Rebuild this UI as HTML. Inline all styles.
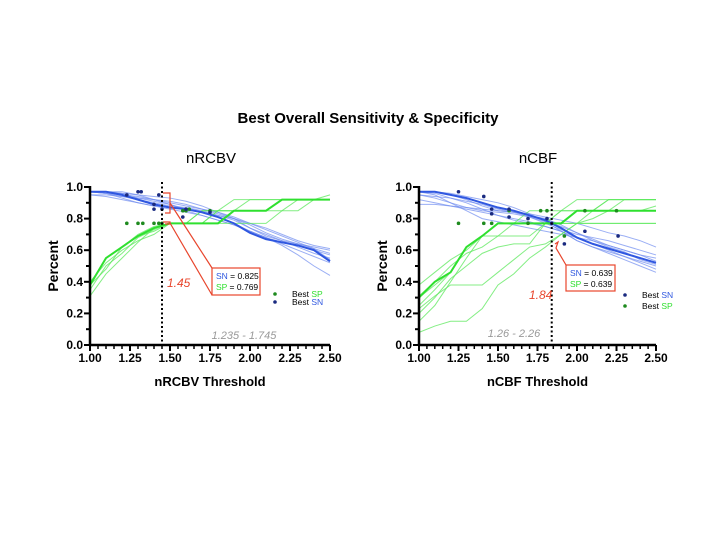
<!DOCTYPE html>
<html><head><meta charset="utf-8"><style>
body{margin:0;background:#fff;width:720px;height:540px;overflow:hidden;font-family:"Liberation Sans",sans-serif}
</style></head><body>
<svg id="s" width="720" height="540" font-family="Liberation Sans, sans-serif">
<text x="368" y="123" text-anchor="middle" font-size="15" font-weight="bold">Best Overall Sensitivity &amp; Specificity</text>
<text x="211" y="163" text-anchor="middle" font-size="15">nRCBV</text>
<text x="538" y="163" text-anchor="middle" font-size="15">nCBF</text>
</svg>
<script>
const xGrid=[1.0,1.1,1.2,1.3,1.4,1.5,1.6,1.7,1.8,1.9,2.0,2.1,2.2,2.3,2.4,2.5];
const xTicks=[1.00,1.25,1.50,1.75,2.00,2.25,2.50];
const yTicks=[0.0,0.2,0.4,0.6,0.8,1.0];
const leftBlue=[
[.97,.97,.96,.93,.91,.89,.86,.84,.81,.77,.72,.68,.65,.63,.60,.57],
[.97,.96,.94,.92,.90,.88,.87,.85,.82,.79,.74,.70,.66,.62,.58,.55],
[.95,.95,.94,.93,.92,.91,.89,.86,.83,.80,.76,.71,.67,.64,.62,.60],
[.97,.97,.97,.95,.92,.89,.85,.82,.79,.76,.72,.68,.64,.60,.56,.52],
[.97,.96,.95,.94,.92,.90,.88,.86,.84,.81,.77,.73,.69,.65,.61,.58],
[.95,.94,.92,.90,.88,.86,.84,.82,.79,.76,.72,.68,.63,.57,.50,.44],
[.97,.97,.96,.95,.94,.93,.91,.88,.84,.80,.74,.69,.66,.64,.61,.54],
[.97,.96,.93,.90,.88,.87,.86,.84,.82,.80,.77,.74,.70,.66,.63,.61]];
const leftBlueThick=[.97,.97,.95,.92,.89,.87,.86,.84,.81,.77,.71,.67,.65,.63,.60,.53];
const leftGreen=[
[.38,.55,.62,.69,.72,.77,.77,.85,.85,.85,.85,.85,.92,.92,.92,.92],
[.31,.45,.55,.65,.74,.77,.77,.77,.85,.92,.92,.92,.92,.92,.92,.92],
[.38,.48,.62,.70,.75,.77,.77,.77,.77,.77,.77,.77,.85,.85,.92,.95],
[.40,.52,.60,.66,.70,.77,.77,.85,.85,.85,.92,.92,.92,.92,.92,.92],
[.35,.50,.58,.68,.73,.77,.77,.77,.85,.85,.85,.85,.85,.92,.92,.92]];
const leftGreenThick=[.38,.55,.62,.69,.74,.77,.77,.77,.77,.85,.85,.85,.92,.92,.92,.92];
const leftSNx=[1.23,1.30,1.32,1.40,1.43,1.45,1.58,1.60,1.75,1.40];
const leftSNy=[.95,.97,.97,.89,.95,.86,.81,.86,.84,.86];
const leftSPx=[1.23,1.30,1.33,1.40,1.43,1.45,1.58,1.60,1.62,1.75];
const leftSPy=[.77,.77,.77,.77,.77,.77,.85,.85,.86,.85];
const rightBlue=[
[.97,.97,.96,.94,.92,.90,.87,.83,.78,.72,.66,.62,.59,.56,.53,.50],
[.95,.93,.90,.87,.85,.84,.83,.81,.78,.75,.71,.67,.63,.60,.57,.55],
[.92,.90,.88,.86,.84,.82,.80,.78,.75,.72,.68,.64,.60,.56,.52,.48],
[.97,.96,.93,.90,.86,.82,.79,.77,.75,.72,.66,.62,.58,.54,.50,.46],
[.89,.89,.88,.87,.86,.85,.84,.83,.81,.79,.77,.74,.71,.69,.66,.62],
[.97,.95,.90,.85,.80,.78,.76,.74,.72,.70,.68,.66,.63,.60,.57,.53],
[.95,.94,.93,.91,.89,.86,.84,.81,.77,.73,.70,.68,.66,.63,.60,.57],
[.97,.97,.95,.92,.88,.85,.84,.82,.80,.76,.71,.66,.62,.59,.54,.51]];
const rightBlueThick=[.97,.97,.95,.93,.90,.87,.85,.82,.79,.74,.68,.64,.61,.58,.55,.52];
const rightGreen=[
[.30,.38,.46,.62,.69,.77,.77,.77,.77,.77,.77,.77,.77,.77,.77,.77],
[.15,.25,.40,.55,.69,.77,.77,.85,.85,.85,.85,.85,.85,.85,.85,.85],
[.08,.12,.15,.15,.23,.38,.45,.55,.62,.70,.77,.80,.85,.92,.92,.92],
[.23,.31,.38,.38,.38,.46,.54,.62,.64,.70,.77,.85,.92,.92,.92,.92],
[.38,.46,.54,.60,.69,.69,.69,.69,.77,.85,.92,.92,.92,.92,.92,.92],
[.25,.35,.46,.62,.69,.77,.77,.77,.77,.77,.77,.77,.77,.77,.77,.77],
[.31,.40,.50,.58,.62,.69,.77,.77,.77,.77,.85,.85,.92,.92,.92,.92],
[.20,.30,.42,.50,.58,.62,.64,.64,.77,.85,.85,.85,.85,.85,.85,.88]];
const rightGreenThick=[.30,.40,.46,.62,.69,.77,.77,.77,.77,.77,.85,.85,.85,.85,.85,.85];
const rightSNx=[1.25,1.41,1.46,1.46,1.57,1.57,1.69,1.81,1.84,1.92,2.05,2.26];
const rightSNy=[.97,.94,.86,.83,.86,.81,.80,.80,.77,.64,.72,.69];
const rightSPx=[1.25,1.41,1.46,1.57,1.69,1.77,1.81,1.92,2.05,2.25];
const rightSPy=[.77,.77,.77,.85,.77,.85,.85,.69,.85,.85];

const svg=document.getElementById('s');
const NS='http://www.w3.org/2000/svg';
function mk(tag,attrs,parent){const e=document.createElementNS(NS,tag);for(const k in attrs)e.setAttribute(k,attrs[k]);(parent||svg).appendChild(e);return e;}
function dot(g,x,y,col,nm){
  const c=mk('circle',{cx:x,cy:y,r:1.8,fill:col},g);
  
  
}
function chart(cfg){
  const g=mk('g',{});
  
  
  const X=v=>cfg.x0+(v-1)/1.5*(cfg.x1-cfg.x0), Y=v=>345-v*158;
  const line=(arr,col,w,op,nm)=>{
    const p=mk('polyline',{points:arr.map((v,i)=>X(xGrid[i])+','+Y(v)).join(' '),fill:'none',stroke:col,'stroke-width':w,opacity:op},g);
    
    
  };
  cfg.blue.forEach((a,i)=>line(a,'#6f8cf0',1,0.7,'sn-line-'+(i+1)));
  cfg.green.forEach((a,i)=>line(a,'#5be85b',1,0.75,'sp-line-'+(i+1)));
  line(cfg.blueThick,'#2f57e0',2,1,'sn-line-main');
  line(cfg.greenThick,'#2fe02f',2,1,'sp-line-main');
  cfg.spx.forEach((x,i)=>dot(g,X(x),Y(cfg.spy[i]),'#1e8a1e','best-sp-point'));
  cfg.snx.forEach((x,i)=>dot(g,X(x),Y(cfg.sny[i]),'#1a2a80','best-sn-point'));
  const ax=mk('g',{stroke:'#000'},g);
  
  
  mk('line',{x1:cfg.x0,y1:186,x2:cfg.x0,y2:346,'stroke-width':2.5},ax);
  mk('line',{x1:cfg.x0-1,y1:345,x2:cfg.x1,y2:345,'stroke-width':2.5},ax);
  for(let i=0;i<=30;i++){const v=1+i*0.05,big=i%5==0;mk('line',{x1:X(v),y1:345,x2:X(v),y2:345+(big?6:4),'stroke-width':big?2:1.5},ax);}
  for(let i=0;i<=10;i++){const v=i*0.1;mk('line',{x1:cfg.x0,y1:Y(v),x2:cfg.x0-(i%2==0?6:4),y2:Y(v),'stroke-width':2},ax);}
  xTicks.forEach(v=>{const t=mk('text',{x:X(v),y:362,'text-anchor':'middle','font-size':12,'font-weight':'bold'},g);t.textContent=v.toFixed(2);
    });
  yTicks.forEach(v=>{const t=mk('text',{x:cfg.x0-7,y:Y(v)+4,'text-anchor':'end','font-size':12,'font-weight':'bold'},g);t.textContent=v.toFixed(1);
    });
  const xt=mk('text',{x:(cfg.x0+cfg.x1)/2,y:386,'text-anchor':'middle','font-size':13,'font-weight':'bold'},g);xt.textContent=cfg.xtitle;
  
  const yt=mk('text',{x:0,y:0,'text-anchor':'middle','font-size':14,'font-weight':'bold',transform:`translate(${cfg.x0-32},266) rotate(-90)`},g);yt.textContent='Percent';
  
  const dl=mk('line',{x1:X(cfg.cut),y1:182,x2:X(cfg.cut),y2:345,stroke:'#000','stroke-width':2,'stroke-dasharray':'2,2.5'},g);
  
  return {g,X,Y};
}
function txt(g,x,y,s,attrs,nm){const t=mk('text',Object.assign({x,y},attrs),g);t.textContent=s;return t;}

const L=chart({name:'nrcbv-chart',x0:90,x1:330,blue:leftBlue,green:leftGreen,blueThick:leftBlueThick,greenThick:leftGreenThick,snx:leftSNx,sny:leftSNy,spx:leftSPx,spy:leftSPy,xtitle:'nRCBV Threshold',cut:1.45});
mk('polyline',{points:'163,193 170,193 170,213 165,213',fill:'none',stroke:'#e8452c','stroke-width':1.2},L.g);
mk('polyline',{points:'163,222 170,222 170,224 165,224',fill:'none',stroke:'#e8452c','stroke-width':1.2},L.g);
mk('polyline',{points:'170,203 212,268',fill:'none',stroke:'#e8452c','stroke-width':1.2},L.g);
mk('polyline',{points:'170,223 212,295',fill:'none',stroke:'#e8452c','stroke-width':1.2},L.g);
mk('rect',{x:212,y:268,width:48,height:27,fill:'#fff',stroke:'#e8452c','stroke-width':1.2},L.g);
txt(L.g,216,279,'',{'font-size':8.5},'sn-annotation').innerHTML='<tspan fill="#2f57e0">SN</tspan> = 0.825';
txt(L.g,216,290,'',{'font-size':8.5},'sp-annotation').innerHTML='<tspan fill="#2fe02f">SP</tspan> = 0.769';
txt(L.g,167,287,'1.45',{'font-size':12,'font-style':'italic',fill:'#e8452c'},'cutoff-value');
txt(L.g,244,339,'1.235 - 1.745',{'font-size':11,'font-style':'italic',fill:'#999','text-anchor':'middle'},'range-label');
dot(L.g,275,294,'#1e8a1e','legend-sp-marker');
txt(L.g,292,297,'',{'font-size':8.5},'legend-best-sp').innerHTML='Best <tspan fill="#2fe02f">SP</tspan>';
dot(L.g,275,302,'#1a2a80','legend-sn-marker');
txt(L.g,292,305,'',{'font-size':8.5},'legend-best-sn').innerHTML='Best <tspan fill="#2f57e0">SN</tspan>';

const R=chart({name:'ncbf-chart',x0:419,x1:656,blue:rightBlue,green:rightGreen,blueThick:rightBlueThick,greenThick:rightGreenThick,snx:rightSNx,sny:rightSNy,spx:rightSPx,spy:rightSPy,xtitle:'nCBF Threshold',cut:1.84});
mk('polyline',{points:'555,244 558,242 556,248 566,265',fill:'none',stroke:'#e8452c','stroke-width':1.2},R.g);
mk('rect',{x:566,y:265,width:49,height:26,fill:'#fff',stroke:'#e8452c','stroke-width':1.2},R.g);
txt(R.g,570,276,'',{'font-size':8.5},'sn-annotation').innerHTML='<tspan fill="#2f57e0">SN</tspan> = 0.639';
txt(R.g,570,287,'',{'font-size':8.5},'sp-annotation').innerHTML='<tspan fill="#2fe02f">SP</tspan> = 0.639';
txt(R.g,529,299,'1.84',{'font-size':12,'font-style':'italic',fill:'#e8452c'},'cutoff-value');
txt(R.g,514,337,'1.26 - 2.26',{'font-size':11,'font-style':'italic',fill:'#999','text-anchor':'middle'},'range-label');
dot(R.g,625,295,'#1a2a80','legend-sn-marker');
txt(R.g,642,298,'',{'font-size':8.5},'legend-best-sn').innerHTML='Best <tspan fill="#2f57e0">SN</tspan>';
dot(R.g,625,306,'#1e8a1e','legend-sp-marker');
txt(R.g,642,309,'',{'font-size':8.5},'legend-best-sp').innerHTML='Best <tspan fill="#2fe02f">SP</tspan>';
</script>
</body></html>
